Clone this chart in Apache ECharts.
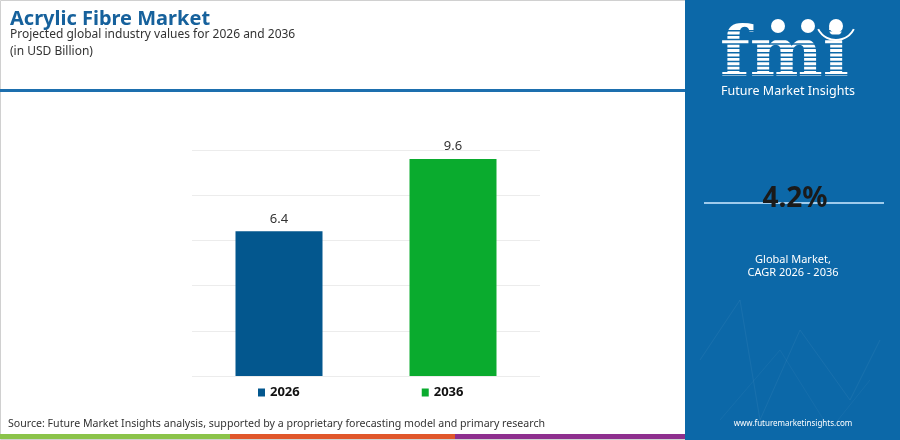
<!DOCTYPE html>
<html><head><meta charset="utf-8">
<script src="https://cdn.jsdelivr.net/npm/echarts@6/dist/echarts.min.js"></script>
<style>html,body{margin:0;padding:0;background:#fff}#c{width:900px;height:440px}</style>
</head><body><div id="c"></div>
<script>
const categories = ['2026', '2036'];
const seriesNames = ['2026', '2036'];
const values2026 = [6.4, '-'];
const values2036 = ['-', 9.6];
const cagrText = '4.2%';

const chart = echarts.init(document.getElementById('c'));
const font = '"Noto Sans", Lato, sans-serif';
const labelCfg = {show: true, position: 'top', distance: 6, color: '#333', fontSize: 13, fontFamily: font, formatter: p => p.value.toFixed(1)};

chart.setOption({
  animation: false,
  backgroundColor: '#fff',
  title: [
    {text: 'Acrylic Fibre Market', left: 5, top: 4, padding: [5, 5], textStyle: {color: '#16619c', fontSize: 20, fontWeight: 'bold', fontFamily: font}},
    {text: 'Projected global industry values for 2026 and 2036\n(in USD Billion)', left: 5, top: 21, padding: [5, 5],
     textStyle: {color: '#333', fontSize: 12, fontWeight: 'normal', fontFamily: font, lineHeight: 17}}
  ],
  grid: {left: 192, right: 360, top: 150, bottom: 64},
  xAxis: {type: 'category', data: categories, axisLine: {show: false}, axisTick: {show: false}, axisLabel: {show: false}},
  yAxis: {type: 'value', min: 0, max: 10, interval: 2, axisLabel: {show: false}, axisLine: {show: false}, axisTick: {show: false},
          splitLine: {lineStyle: {color: '#ececec', width: 1}}},
  legend: {data: seriesNames, bottom: 36, left: 253, itemGap: 122, itemWidth: 7, itemHeight: 8, icon: 'rect',
           textStyle: {color: '#111', fontSize: 13, fontWeight: 'bold', fontFamily: font}},
  series: [
    {name: '2026', type: 'bar', stack: 'v', data: values2026, barWidth: 87, itemStyle: {color: '#03578e'}, label: labelCfg},
    {name: '2036', type: 'bar', stack: 'v', data: values2036, barWidth: 87, itemStyle: {color: '#0aab2e'}, label: labelCfg}
  ],
  graphic: [
    {type: 'rect', shape: {x: 0.5, y: 0.5, width: 899, height: 439}, style: {fill: 'none', stroke: '#d0d0d0', lineWidth: 1}, z: 0},
    {type: 'rect', shape: {x: 0, y: 89, width: 686, height: 3}, style: {fill: '#1d6fae'}},
    {type: 'rect', shape: {x: 685, y: 0, width: 215, height: 440}, style: {fill: '#0c68a8'}},
    {type: 'polyline', shape: {points: [[700, 360], [740, 300], [760, 420], [800, 330], [850, 400], [880, 340]]}, style: {stroke: 'rgba(255,255,255,0.05)', lineWidth: 1}},
    {type: 'polyline', shape: {points: [[720, 420], [780, 350], [830, 430], [870, 380]]}, style: {stroke: 'rgba(255,255,255,0.04)', lineWidth: 1}},
    {type: 'text', style: {text: 'fmi', x: 720, y: 24, fill: '#fff', fontSize: 69, fontWeight: 'bold', fontFamily: '"DejaVu Serif", serif'}},
    {type: 'group', children: [0,1,2,3,4,5,6,7,8,9,10].map(i => ({type: 'rect', shape: {x: 716, y: 30 + i * 4.4, width: 140, height: 1.5}, style: {fill: '#0c68a8'}}))},
    {type: 'circle', shape: {cx: 778, cy: 26, r: 7}, style: {fill: '#fff'}},
    {type: 'circle', shape: {cx: 808, cy: 26, r: 7}, style: {fill: '#fff'}},
    {type: 'circle', shape: {cx: 836, cy: 26, r: 7}, style: {fill: '#fff'}},
    {type: 'arc', shape: {cx: 836, cy: 20, r: 20, startAngle: Math.PI * 0.15, endAngle: Math.PI * 0.85}, style: {stroke: '#fff', lineWidth: 2, fill: 'none'}},
    {type: 'text', style: {text: 'Future Market Insights', x: 788, y: 91, align: 'center', verticalAlign: 'middle', fill: '#fff', fontSize: 12.5, fontFamily: font}},
    {type: 'rect', shape: {x: 704, y: 202, width: 180, height: 2}, style: {fill: '#9fcbec'}},
    {type: 'text', style: {text: cagrText, x: 795, y: 199, align: 'center', verticalAlign: 'middle', fill: '#1a1a1a', fontSize: 28, fontWeight: 'bold', fontFamily: font}},
    {type: 'text', style: {text: 'Global Market,\nCAGR 2026 - 2036', x: 793, y: 266, align: 'center', verticalAlign: 'middle', fill: '#fff', fontSize: 11, lineHeight: 13, fontFamily: font}},
    {type: 'text', style: {text: 'www.futuremarketinsights.com', x: 793, y: 424, align: 'center', verticalAlign: 'middle', fill: '#fff', fontSize: 8, fontFamily: font}},
    {type: 'text', style: {text: 'Source: Future Market Insights analysis, supported by a proprietary forecasting model and primary research', x: 8, y: 424, verticalAlign: 'middle', fill: '#333', fontSize: 10.6, fontFamily: font}},
    {type: 'rect', shape: {x: 0, y: 434, width: 230, height: 5}, style: {fill: '#8bc34a'}},
    {type: 'rect', shape: {x: 230, y: 434, width: 225, height: 5}, style: {fill: '#e0572b'}},
    {type: 'rect', shape: {x: 455, y: 434, width: 230, height: 5}, style: {fill: '#8e2f8e'}}
  ]
});
</script></body></html>
